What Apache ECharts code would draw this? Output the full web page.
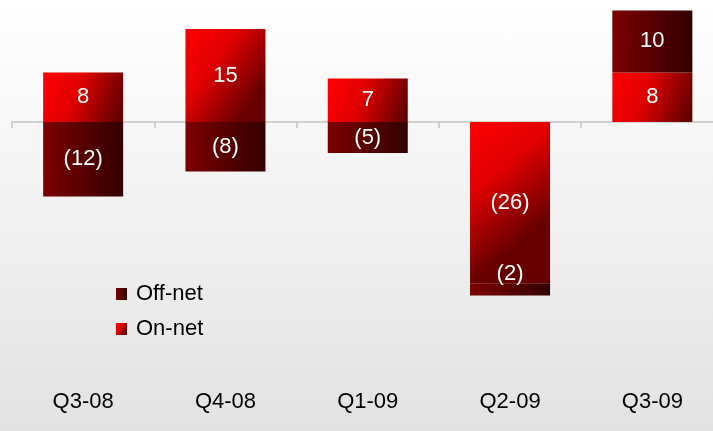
<!DOCTYPE html>
<html>
<head>
<meta charset="utf-8">
<script src="https://cdn.jsdelivr.net/npm/echarts@6/dist/echarts.min.js"></script>
<style>
html,body{margin:0;padding:0;}
#c{width:713px;height:431px;background:linear-gradient(to bottom,#ffffff 0%,#f4f4f4 40%,#e2e2e2 100%);}
</style>
</head>
<body>
<div id="c"></div>
<script>
var categories = ['Q3-08', 'Q4-08', 'Q1-09', 'Q2-09', 'Q3-09'];
var onNet = [8, 15, 7, -26, 8];
var offNet = [-12, -8, -5, -2, 10];

var chart = echarts.init(document.getElementById('c'));
var font = 'Liberation Sans, Arial, sans-serif';
function fmt(p) { var v = p.value; return v < 0 ? '(' + (-v) + ')' : String(v); }

var offData = offNet.map(function (v, i) {
  if (i === 3) return { value: v, label: { offset: [0, -15] } };
  return v;
});

chart.setOption({
  backgroundColor: 'transparent',
  animation: false,
  grid: { left: 12, right: -10.5, top: -2, bottom: 61, outerBoundsMode: 'none', containLabel: false },
  legend: {
    data: ['Off-net', 'On-net'],
    orient: 'vertical',
    left: 111,
    top: 278,
    icon: 'rect',
    itemWidth: 11,
    itemHeight: 12,
    itemGap: 13,
    textStyle: { fontFamily: font, fontSize: 22, color: '#000', padding: [0, 0, 0, 4] }
  },
  xAxis: [
    {
      type: 'category', data: categories, position: 'bottom',
      axisLine: { onZero: true, lineStyle: { color: '#c4c4c4', width: 1.5 } },
      axisTick: { show: true, length: 6, lineStyle: { color: '#c4c4c4', width: 1.5 } },
      axisLabel: { show: false }
    },
    {
      type: 'category', data: categories, position: 'bottom',
      axisLine: { show: false, onZero: false },
      axisTick: { show: false },
      axisLabel: { fontFamily: font, fontSize: 22, color: '#000', margin: 21 }
    }
  ],
  yAxis: { type: 'value', min: -40, max: 20, show: false, splitLine: { show: false } },
  series: [
    {
      name: 'On-net', type: 'bar', stack: 't', data: onNet, barWidth: 80, xAxisIndex: 0,
      itemStyle: { color: new echarts.graphic.LinearGradient(0, 0, 1, 0.6, [{ offset: 0, color: '#ff0000' }, { offset: 0.45, color: '#e00000' }, { offset: 1, color: '#660000' }]) },
      label: { show: true, position: 'inside', formatter: fmt, color: '#fff', fontFamily: font, fontSize: 22 }
    },
    {
      name: 'Off-net', type: 'bar', stack: 't', data: offData, barWidth: 80, xAxisIndex: 0,
      itemStyle: { color: new echarts.graphic.LinearGradient(0, 0, 1, 0, [{ offset: 0, color: '#7c0000' }, { offset: 1, color: '#330000' }]) },
      label: { show: true, position: 'inside', formatter: fmt, color: '#fff', fontFamily: font, fontSize: 22 }
    }
  ]
});
</script>
</body>
</html>
